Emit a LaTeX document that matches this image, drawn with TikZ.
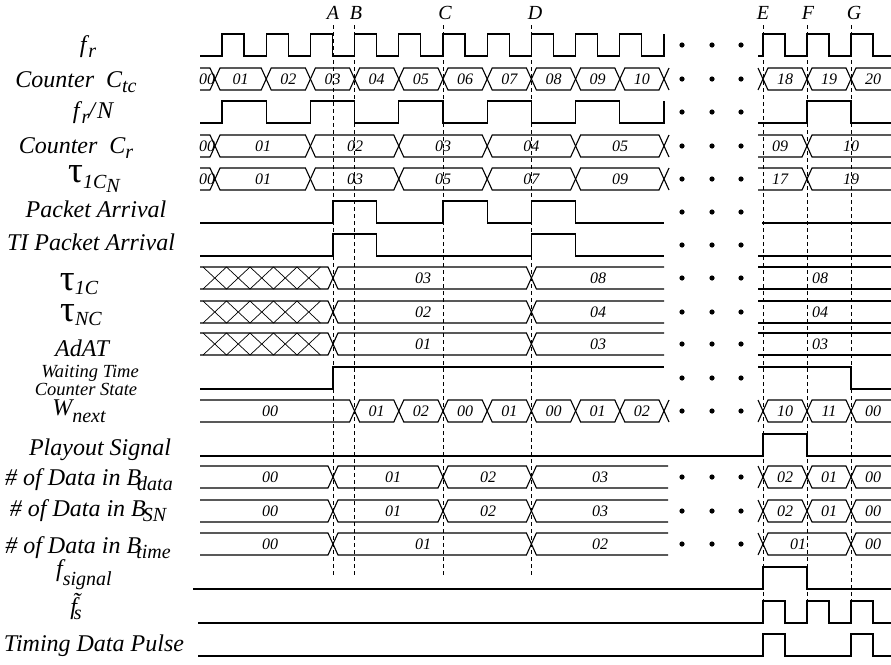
\documentclass[tikz,border=0pt]{standalone}
\usepackage{fontspec}
\setmainfont{Liberation Serif}
\newcount\vcnt
\newcommand\lowsub[2][5pt]{\raisebox{-#1}{\fontsize{20}{20}\selectfont #2}}
\newcommand\vlabel[3]{\global\advance\vcnt by 1\relax\node[val] (v\the\vcnt) at (#2,#1) {#3};}
\newcommand\busC[5]{\draw[sig] (#2,#1) -- (#2+5,#1-11) -- (#3-5,#1-11) -- (#3,#1) -- (#3-5,#1+11) -- (#2+5,#1+11) -- cycle; \vlabel{#1}{#5}{#4}}
\newcommand\busL[5]{\draw[sig] (#2,#1-11) -- (#3-5,#1-11) -- (#3,#1) -- (#3-5,#1+11) -- (#2,#1+11); \vlabel{#1}{#5}{#4}}
\newcommand\busR[5]{\draw[sig] (#3,#1-11) -- (#2+5,#1-11) -- (#2,#1) -- (#2+5,#1+11) -- (#3,#1+11); \vlabel{#1}{#5}{#4}}
\newcommand\busO[5]{\draw[sig] (#2,#1-11) -- (#3,#1-11) (#2,#1+11) -- (#3,#1+11); \vlabel{#1}{#5}{#4}}
\newcommand\busT[2]{\draw[sig] (#2+5,#1-11) -- (#2,#1) -- (#2+5,#1+11);}
\newcommand\busH[2]{\draw[sig] (#2-5,#1-11) -- (#2,#1) -- (#2-5,#1+11);}
\newcommand\hatchX[1]{\draw[sig] (200,#1-11) -- (328,#1-11) -- (333,#1) -- (328,#1+11) -- (200,#1+11);
 \draw[hatchl] (203,#1-11) -- (226.5,#1+11) -- (250,#1-11) -- (273.5,#1+11) -- (297,#1-11) -- (320.5,#1+11)
   (203,#1+11) -- (226.5,#1-11) -- (250,#1+11) -- (273.5,#1-11) -- (297,#1+11) -- (320.5,#1-11);}
\begin{document}
\begin{tikzpicture}[x=1pt,y=-1pt,
  sig/.style={line width=1.1pt, line join=miter},
  hatchl/.style={line width=0.7pt},
  guide/.style={line width=0.8pt, dash pattern=on 4pt off 3pt},
  val/.style={font=\fontsize{16}{16}\selectfont\itshape, inner sep=0pt},
  lab/.style={font=\fontsize{24}{26}\selectfont\itshape, anchor=base, inner sep=0pt},
  labs/.style={font=\fontsize{18.5}{18.5}\selectfont\itshape, anchor=base, inner sep=0pt},
  evt/.style={font=\fontsize{20}{20}\selectfont\itshape, inner sep=0pt}]
\useasboundingbox[fill=white] (0,0) rectangle (891,664);

% event guide lines
\foreach \gx in {333,354.6,443,531.4}{\draw[guide] (\gx,25) -- (\gx,575);}
\foreach \gx in {763,807,851}{\draw[guide] (\gx,25) -- (\gx,600);}
\node[evt] (evA) at (333,13) {A};
\node[evt] (evB) at (356,13) {B};
\node[evt] (evC) at (445,13) {C};
\node[evt] (evD) at (535,13) {D};
\node[evt] (evE) at (763,13) {E};
\node[evt] (evF) at (808,13) {F};
\node[evt] (evG) at (854,13) {G};

% left labels
\node[lab] (lfr) at (88,52) {f\kern2pt\lowsub{r}};
\node[lab] (lctc) at (76,87) {Counter\ \ C\lowsub{tc}};
\node[lab] (lfrn) at (93,118) {f\kern2pt\lowsub{r}\kern-1pt/\kern2pt N};
\node[lab] (lcr) at (76,153) {Counter\ \ C\lowsub{r}};
\node[lab] (ltcn) at (94,182) {{\fontsize{37}{37}\selectfont\upshape τ}\lowsub[6pt]{1C\lowsub[4pt]{N}}};
\node[lab] (lpa) at (96,217) {Packet Arrival};
\node[lab] (ltipa) at (91,250) {TI Packet Arrival};
\node[lab] (lt1c) at (79,290) {{\fontsize{37}{37}\selectfont\upshape τ}\lowsub[4pt]{1C}};
\node[lab] (ltnc) at (81,321) {{\fontsize{37}{37}\selectfont\upshape τ}\lowsub[4pt]{NC}};
\node[lab] (ladat) at (82,356) {AdAT};
\node[labs] (lwt) at (90,377) {Waiting Time};
\node[labs] (lcs) at (86,395) {Counter State};
\node[lab] (lwn) at (79,415) {W\lowsub[7pt]{next}};
\node[lab] (lps) at (100,455) {Playout Signal};
\node[lab] (lbd) at (89,485) {\# of Data in B\kern-4pt\lowsub{data}};
\node[lab] (lbsn) at (88,516) {\# of Data in B\kern-3pt\lowsub{SN}};
\node[lab] (lbt) at (88,553) {\# of Data in B\kern-5pt\lowsub{time}};
\node[lab] (lfs) at (84,576) {f\lowsub[9pt]{signal}};
\node[lab] (lft) at (76,614) {\~{f}\kern-3pt\lowsub{s}};
\node[lab] (ltdp) at (94,651) {Timing Data Pulse};

% f_r
\draw[sig] (200,56) -- (222,56) |- (244,34) |- (266.2,56) |- (288.2,34) |- (310.4,56) |- (332.4,34) |- (354.6,56) |- (376.6,34) |- (398.8,56) |- (420.8,34) |- (443,56) |- (465,34) |- (487.2,56) |- (509.2,34) |- (531.4,56) |- (553.4,34) |- (575.6,56) |- (597.6,34) |- (619.8,56) |- (641.8,34) |- (664,56) -- (664,34);
\draw[sig] (758,56) -- (763,56) |- (785,34) |- (807,56) |- (829,34) |- (851,56) |- (873,34) |- (891,56);

% Counter Ctc
\busL{79}{200}{215}{00}{207}
\busC{79}{215}{266.2}{01}{240.6}
\busC{79}{266.2}{310.4}{02}{288.3}
\busC{79}{310.4}{354.6}{03}{332.5}
\busC{79}{354.6}{398.8}{04}{376.7}
\busC{79}{398.8}{443}{05}{420.9}
\busC{79}{443}{487.2}{06}{465.1}
\busC{79}{487.2}{531.4}{07}{509.3}
\busC{79}{531.4}{575.6}{08}{553.5}
\busC{79}{575.6}{619.8}{09}{597.7}
\busC{79}{619.8}{664}{10}{641.9}
\busT{79}{664}
\busH{79}{763}
\busC{79}{763}{807}{18}{785}
\busC{79}{807}{851}{19}{829}
\busR{79}{851}{891}{20}{873}

% f_r / N
\draw[sig] (200,123) -- (222,123) |- (266.2,101) |- (310.4,123) |- (354.6,101) |- (398.8,123) |- (443,101) |- (487.2,123) |- (531.4,101) |- (575.6,123) |- (619.8,101) |- (664,123) -- (664,101);
\draw[sig] (758,123) -- (807,123) |- (851,101) |- (891,123);

% Counter Cr
\busL{146}{200}{215}{00}{207}
\busC{146}{215}{310.4}{01}{263}
\busC{146}{310.4}{398.8}{02}{355}
\busC{146}{398.8}{487.2}{03}{443}
\busC{146}{487.2}{575.6}{04}{531.4}
\busC{146}{575.6}{664}{05}{620}
\busT{146}{664}
\busL{146}{758}{807}{09}{780}
\busR{146}{807}{891}{10}{851}

% tau 1CN
\busL{179}{200}{215}{00}{207}
\busC{179}{215}{310.4}{01}{263}
\busC{179}{310.4}{398.8}{03}{355}
\busC{179}{398.8}{487.2}{05}{443}
\busC{179}{487.2}{575.6}{07}{531.4}
\busC{179}{575.6}{664}{09}{620}
\busT{179}{664}
\busL{179}{758}{807}{17}{780}
\busR{179}{807}{891}{19}{851}

% Packet Arrival
\draw[sig] (200,223) -- (333,223) |- (376.6,201) |- (443,223) |- (487.2,201) |- (531.4,223) |- (575.6,201) |- (664,223);
\draw[sig] (762,223) -- (891,223);
% TI Packet Arrival
\draw[sig] (200,256) -- (333,256) |- (376.6,234) |- (531.4,256) |- (575.6,234) |- (664,256);
\draw[sig] (758,256) -- (891,256);

% tau 1C
\hatchX{278}
\busC{278}{333}{531.4}{03}{423}
\busR{278}{531.4}{664}{08}{598}
\busO{278}{758}{891}{08}{820}
% tau NC
\hatchX{312}
\busC{312}{333}{531.4}{02}{423}
\busR{312}{531.4}{664}{04}{598}
\busO{312}{758}{891}{04}{820}
% AdAT
\hatchX{344}
\busC{344}{333}{531.4}{01}{423}
\busR{344}{531.4}{664}{03}{598}
\busO{344}{758}{891}{03}{820}

% Waiting time counter state
\draw[sig] (200,389) -- (333,389) |- (664,367);
\draw[sig] (758,367) -- (851,367) |- (891,389);

% W next
\busL{411}{200}{354.6}{00}{270}
\busC{411}{354.6}{398.8}{01}{376.7}
\busC{411}{398.8}{443}{02}{420.9}
\busC{411}{443}{487.2}{00}{465.1}
\busC{411}{487.2}{531.4}{01}{509.3}
\busC{411}{531.4}{575.6}{00}{553.5}
\busC{411}{575.6}{619.8}{01}{597.7}
\busC{411}{619.8}{664}{02}{641.9}
\busT{411}{664}
\busH{411}{763}
\busC{411}{763}{807}{10}{785}
\busC{411}{807}{851}{11}{829}
\busR{411}{851}{891}{00}{873}

% Playout signal
\draw[sig] (200,456) -- (763,456) |- (807,434) |- (891,456);

% B data
\busL{477}{200}{333}{00}{270}
\busC{477}{333}{443}{01}{393}
\busC{477}{443}{531.4}{02}{488}
\busR{477}{531.4}{668}{03}{600}
\busH{477}{763}
\busC{477}{763}{807}{02}{785}
\busC{477}{807}{851}{01}{829}
\busR{477}{851}{891}{00}{873}
% B SN
\busL{511}{200}{333}{00}{270}
\busC{511}{333}{443}{01}{393}
\busC{511}{443}{531.4}{02}{488}
\busR{511}{531.4}{668}{03}{600}
\busH{511}{763}
\busC{511}{763}{807}{02}{785}
\busC{511}{807}{851}{01}{829}
\busR{511}{851}{891}{00}{873}
% B time
\busL{544}{200}{333}{00}{270}
\busC{544}{333}{531.4}{01}{423}
\busR{544}{531.4}{668}{02}{600}
\busH{544}{763}
\busC{544}{763}{851}{01}{798}
\busR{544}{851}{891}{00}{873}

% f signal, f~s, timing data pulse
\draw[sig] (193,589) -- (763,589) |- (807,567) |- (891,589);
\draw[sig] (198,623) -- (763,623) |- (785,601) |- (807,623) |- (829,601) |- (851,623) |- (873,601) |- (891,623);
\draw[sig] (198,656) -- (763,656) |- (785,634) |- (851,656) |- (873,634) |- (891,656);

% ellipsis dots
\foreach \ry in {45,79,112,146,179,212,245,278,312,344,378,411,477,511,544}{
  \foreach \dx in {682,712,741}{\fill (\dx,\ry) circle[radius=2.6pt];}}
\end{tikzpicture}
\end{document}
